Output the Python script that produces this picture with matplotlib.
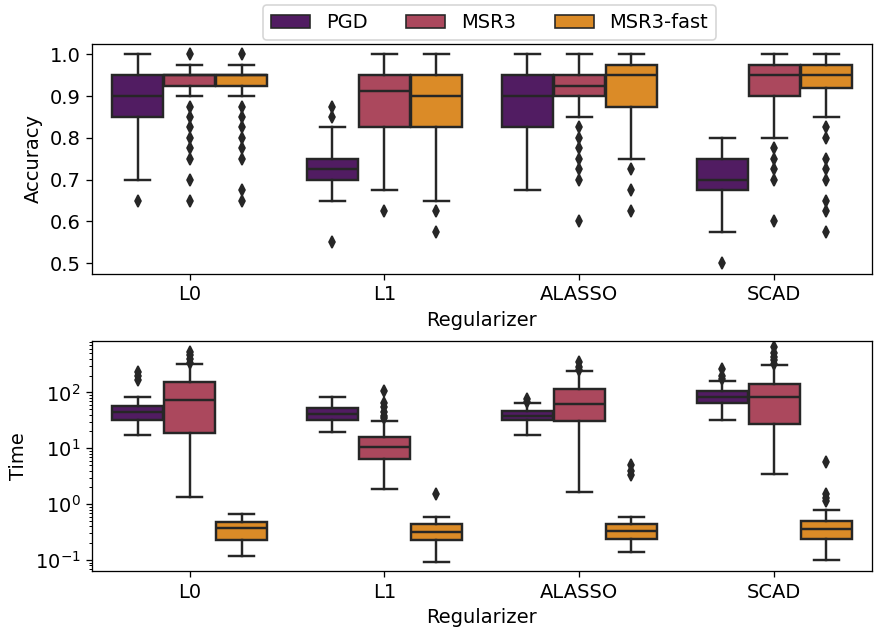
import colorsys
import matplotlib
matplotlib.use("Agg")
import matplotlib.pyplot as plt
from matplotlib.patches import Patch
from matplotlib.ticker import MultipleLocator
import seaborn as sns

regularizers = ["L0", "L1", "ALASSO", "SCAD"]
methods = ["PGD", "MSR3", "MSR3-fast"]

# accuracy summary per regularizer (rows) and method (columns)
acc_lo = [[0.70, 0.90, 0.90], [0.65, 0.675, 0.65], [0.675, 0.85, 0.75], [0.575, 0.80, 0.85]]
acc_q1 = [[0.85, 0.925, 0.925], [0.70, 0.825, 0.825], [0.825, 0.90, 0.875], [0.675, 0.90, 0.92]]
acc_med = [[0.90, 0.95, 0.95], [0.725, 0.9125, 0.90], [0.90, 0.925, 0.95], [0.70, 0.95, 0.95]]
acc_q3 = [[0.95, 0.95, 0.95], [0.75, 0.95, 0.95], [0.95, 0.95, 0.975], [0.75, 0.975, 0.975]]
acc_hi = [[1.0, 0.975, 0.975], [0.825, 1.0, 1.0], [1.0, 1.0, 1.0], [0.80, 1.0, 1.0]]
acc_out = [
    [[0.65], [1.0, 0.875, 0.85, 0.825, 0.80, 0.775, 0.75, 0.70, 0.65],
     [1.0, 0.875, 0.85, 0.825, 0.80, 0.775, 0.75, 0.675, 0.65]],
    [[0.875, 0.85, 0.55], [0.625], [0.625, 0.575]],
    [[], [0.825, 0.80, 0.775, 0.75, 0.725, 0.70, 0.60], [0.725, 0.675, 0.625]],
    [[0.50], [0.775, 0.75, 0.725, 0.70, 0.60],
     [0.825, 0.80, 0.75, 0.725, 0.70, 0.65, 0.625, 0.575]],
]

# run time summary (seconds)
time_lo = [[17.4, 1.32, 0.12], [19.7, 1.84, 0.092], [17.0, 1.62, 0.14], [32.0, 3.4, 0.10]]
time_q1 = [[32.0, 19.0, 0.23], [32.0, 6.4, 0.23], [32.0, 31.0, 0.24], [64.0, 27.0, 0.24]]
time_med = [[44.0, 73.0, 0.37], [41.0, 10.4, 0.32], [38.0, 63.0, 0.33], [82.0, 83.0, 0.36]]
time_q3 = [[58.0, 154.0, 0.48], [52.0, 16.2, 0.44], [46.0, 113.0, 0.44], [106.0, 141.0, 0.49]]
time_hi = [[82.0, 325.0, 0.67], [82.0, 31.0, 0.60], [64.0, 240.0, 0.58], [163.0, 316.0, 0.78]]
time_out = [
    [[165.0, 200.0, 230.0], [340.0, 400.0, 460.0, 530.0], []],
    [[], [35.0, 38.0, 45.0, 55.0, 66.0, 107.0], [1.52]],
    [[68.0, 75.0], [250.0, 280.0, 350.0], [3.3, 4.0, 5.0]],
    [[175.0, 200.0, 260.0], [330.0, 380.0, 430.0, 500.0, 650.0], [1.15, 1.3, 1.55, 5.7]],
]

plt.rcParams["font.size"] = 12

colors = sns.color_palette("inferno", 3, desat=0.75)
lum = min(colorsys.rgb_to_hls(*c)[1] for c in colors) * 0.6
gray = (lum, lum, lum)

width = 0.8 / len(methods)
offsets = [(i - (len(methods) - 1) / 2) * width for i in range(len(methods))]


def draw_boxes(ax, lo, q1, med, q3, hi, out):
    for j, color in enumerate(colors):
        stats = []
        for i in range(len(regularizers)):
            stats.append(dict(whislo=lo[i][j], q1=q1[i][j], med=med[i][j],
                              q3=q3[i][j], whishi=hi[i][j], fliers=out[i][j]))
        pos = [i + offsets[j] for i in range(len(regularizers))]
        ax.bxp(stats, positions=pos, widths=width * 0.98, patch_artist=True,
               manage_ticks=False,
               boxprops=dict(facecolor=color, edgecolor=gray, linewidth=1.5),
               medianprops=dict(color=gray, linewidth=1.5),
               whiskerprops=dict(color=gray, linewidth=1.5),
               capprops=dict(color=gray, linewidth=1.5),
               flierprops=dict(marker="d", markersize=5, markerfacecolor=gray,
                               markeredgecolor=gray, linestyle="none"))
    ax.set_xticks(range(len(regularizers)))
    ax.set_xticklabels(regularizers)
    ax.set_xlim(-0.5, len(regularizers) - 0.5)
    ax.set_xlabel("Regularizer")


dpi = 117
fig, (ax1, ax2) = plt.subplots(2, 1, figsize=(877 / dpi, 627 / dpi), dpi=dpi)
fig.subplots_adjust(left=0.105, right=0.994, top=0.93, bottom=0.089, hspace=0.295)

draw_boxes(ax1, acc_lo, acc_q1, acc_med, acc_q3, acc_hi, acc_out)
ax1.set_ylim(0.475, 1.025)
ax1.yaxis.set_major_locator(MultipleLocator(0.1))
ax1.set_ylabel("Accuracy")

draw_boxes(ax2, time_lo, time_q1, time_med, time_q3, time_hi, time_out)
ax2.set_yscale("log")
ax2.set_ylim(0.063, 820)
ax2.set_ylabel("Time")

handles = [Patch(facecolor=c, edgecolor=gray, linewidth=1) for c in colors]
ax1.legend(handles, methods, ncol=3, loc="lower center",
           bbox_to_anchor=(0.51, 1.0), borderaxespad=0.2)

fig.savefig("out.png", dpi=dpi)
